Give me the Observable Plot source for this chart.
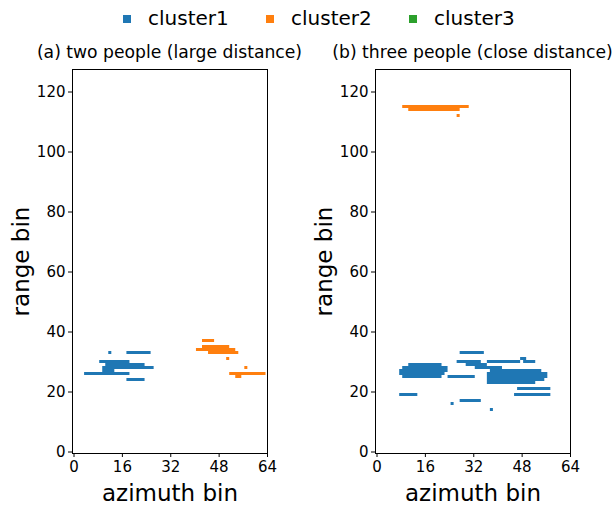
<!DOCTYPE html>
<html>
<head>
<meta charset="utf-8">
<script src="https://cdn.jsdelivr.net/npm/d3@7"></script>
<script src="https://cdn.jsdelivr.net/npm/@observablehq/plot@0.6"></script>
<style>
  html, body { margin: 0; padding: 0; background: white; overflow: hidden; }
  #wrap { position: relative; width: 615px; height: 506px; font-family: "DejaVu Sans", sans-serif; color: black; overflow: hidden; }
  .panel { position: absolute; top: 60px; }
  .title { position: absolute; top: 42px; font-size: 17.2px; white-space: nowrap; line-height: 20px; transform: translateX(-50%); }
  .lg-sq { position: absolute; top: 15px; width: 8px; height: 8px; }
  .lg-tx { position: absolute; top: 8px; font-size: 20px; line-height: 20px; white-space: nowrap; }
</style>
</head>
<body>
<div id="wrap"></div>
<script>
// ---- data ----
const clusterNames = ["cluster1", "cluster2", "cluster3"];
const clusterColors = ["#1f77b4", "#ff7f0e", "#2ca02c"];
const xTicks = [0, 16, 32, 48, 64];
const yTicks = [0, 20, 40, 60, 80, 100, 120];
const panelTitles = ["(a) two people (large distance)", "(b) three people (close distance)"];

// runs: [range bin (row), first azimuth bin, last azimuth bin]
const leftCluster1 = [
  [33, 12, 12], [33, 18, 25],
  [30, 9, 18],
  [29, 11, 23],
  [28, 10, 26],
  [27, 10, 13],
  [26, 4, 18],
  [24, 18, 23]
];
const leftCluster2 = [
  [37, 43, 46],
  [35, 43, 51],
  [34, 41, 53],
  [33, 45, 54],
  [31, 51, 51],
  [28, 57, 57],
  [26, 52, 63],
  [25, 54, 55]
];
const rightCluster1 = [
  [33, 28, 35],
  [31, 48, 49],
  [30, 27, 34], [30, 37, 47], [30, 49, 52],
  [29, 11, 21], [29, 30, 36],
  [28, 9, 23], [28, 33, 41],
  [27, 8, 23], [27, 38, 54],
  [26, 8, 22], [26, 37, 56],
  [25, 9, 21], [25, 24, 32], [25, 37, 56],
  [24, 37, 55],
  [23, 37, 52],
  [21, 47, 57],
  [19, 8, 13], [19, 46, 57],
  [17, 28, 34],
  [16, 25, 25],
  [14, 38, 38]
];
const rightCluster2 = [
  [115, 9, 30],
  [114, 11, 27],
  [112, 27, 27]
];

// ---- drawing ----
function toRows(runs, name) {
  return runs.map(([row, c0, c1]) => ({row, c0, c1, cluster: name}));
}

function panel(c1, c2) {
  const cells = [...toRows(c1, "cluster1"), ...toRows(c2, "cluster2")];
  return Plot.plot({
    width: 300, height: 446,
    marginLeft: 72, marginRight: 33, marginTop: 9, marginBottom: 53,
    style: {fontFamily: "DejaVu Sans", fontSize: "15px", color: "black", background: "white", overflow: "visible"},
    x: {domain: [-0.5, 64]},
    y: {domain: [-0.5, 127.5]},
    color: {domain: clusterNames, range: clusterColors},
    marks: [
      Plot.rect(cells, {
        x1: d => d.c0 - 0.5, x2: d => d.c1 + 0.5,
        y1: d => d.row - 0.5, y2: d => d.row + 0.5,
        fill: "cluster"
      }),
      Plot.frame({stroke: "black", strokeWidth: 1}),
      Plot.axisX({ticks: xTicks, tickSize: 4, tickPadding: 4, fontSize: 15, label: null}),
      Plot.axisY({ticks: yTicks, tickSize: 4, tickPadding: 3, fontSize: 15, label: null}),
      Plot.text(["azimuth bin"], {frameAnchor: "bottom", dy: 40, fontSize: 23, lineAnchor: "middle", textAnchor: "middle"}),
      Plot.text(["range bin"], {frameAnchor: "left", dx: -51, rotate: -90, fontSize: 23, lineAnchor: "middle", textAnchor: "middle"})
    ]
  });
}

const wrap = document.getElementById("wrap");

// legend
const lgSq = [123, 266, 409];
const lgTx = [148, 291, 434];
clusterNames.forEach((n, i) => {
  const sq = document.createElement("div");
  sq.className = "lg-sq";
  sq.style.left = lgSq[i] + "px";
  sq.style.background = clusterColors[i];
  wrap.appendChild(sq);
  const tx = document.createElement("div");
  tx.className = "lg-tx";
  tx.style.left = lgTx[i] + "px";
  tx.textContent = n;
  wrap.appendChild(tx);
});

// panels
const panelLefts = [0, 303];
const data = [[leftCluster1, leftCluster2], [rightCluster1, rightCluster2]];
data.forEach(([a, b], i) => {
  const p = panel(a, b);
  p.classList.add("panel");
  p.style.left = panelLefts[i] + "px";
  wrap.appendChild(p);
  const t = document.createElement("div");
  t.className = "title";
  t.style.left = (panelLefts[i] + 72 + 97.5) + "px";
  t.textContent = panelTitles[i];
  wrap.appendChild(t);
});
</script>
</body>
</html>
